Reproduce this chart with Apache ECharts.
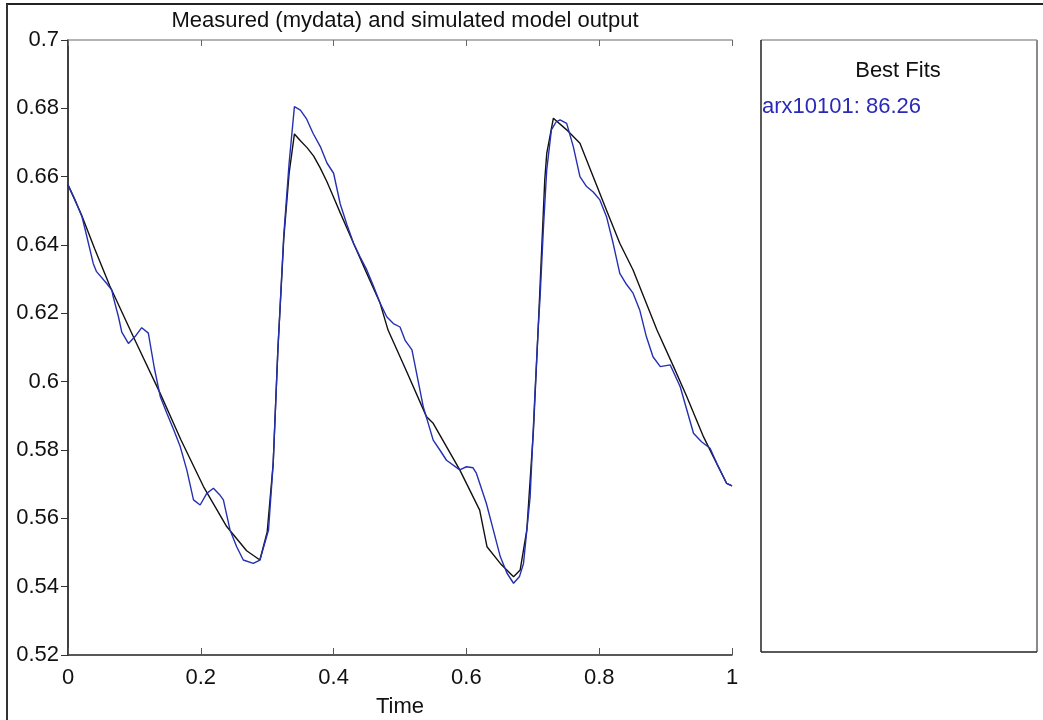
<!DOCTYPE html>
<html>
<head>
<meta charset="utf-8">
<script src="https://cdn.jsdelivr.net/npm/echarts@6/dist/echarts.min.js"></script>
<style>
html,body{margin:0;padding:0;background:#fff;}
#chart{width:1043px;height:720px;}
</style>
</head>
<body>
<div id="chart"></div>
<script>
// Simulated model output (black)
const simT = [0.000,0.020,0.040,0.063,0.100,0.139,0.170,0.204,0.239,0.269,0.289,0.300,0.309,0.316,0.325,0.333,0.341,0.350,0.360,0.370,0.380,0.390,0.400,0.410,0.420,0.430,0.450,0.470,0.482,0.510,0.540,0.550,0.590,0.620,0.631,0.651,0.671,0.681,0.691,0.701,0.708,0.718,0.721,0.731,0.751,0.771,0.791,0.811,0.831,0.851,0.887,0.912,0.932,0.957,0.972,0.992,1.000];
const simV = [0.6576,0.6490,0.6390,0.6280,0.6125,0.5965,0.5830,0.5693,0.5576,0.5505,0.5478,0.5560,0.5760,0.6090,0.6420,0.6610,0.6725,0.6705,0.6685,0.6660,0.6625,0.6585,0.6540,0.6494,0.6450,0.6405,0.6317,0.6230,0.6151,0.6030,0.5897,0.5878,0.5742,0.5624,0.5517,0.5468,0.5429,0.5449,0.5566,0.5859,0.6151,0.6590,0.6668,0.6771,0.6737,0.6698,0.6600,0.6502,0.6405,0.6327,0.6151,0.6044,0.5956,0.5839,0.5780,0.5702,0.5695];

// Measured data (blue)
const measT = [0.000,0.010,0.021,0.026,0.038,0.043,0.058,0.066,0.068,0.076,0.081,0.091,0.101,0.111,0.121,0.130,0.139,0.149,0.159,0.169,0.179,0.189,0.199,0.209,0.219,0.228,0.234,0.244,0.254,0.264,0.279,0.289,0.302,0.309,0.316,0.325,0.333,0.341,0.350,0.359,0.369,0.380,0.390,0.400,0.410,0.420,0.430,0.440,0.450,0.460,0.470,0.480,0.490,0.500,0.508,0.518,0.535,0.550,0.560,0.570,0.590,0.600,0.610,0.615,0.630,0.640,0.651,0.661,0.671,0.680,0.686,0.696,0.703,0.708,0.711,0.716,0.721,0.728,0.735,0.741,0.751,0.761,0.771,0.781,0.791,0.801,0.811,0.821,0.831,0.841,0.851,0.861,0.871,0.881,0.892,0.907,0.922,0.932,0.942,0.954,0.967,0.977,0.992,1.000];
const measV = [0.6576,0.6535,0.6483,0.6444,0.6346,0.6322,0.6288,0.6268,0.6249,0.6190,0.6145,0.6112,0.6132,0.6158,0.6142,0.6040,0.5956,0.5907,0.5860,0.5810,0.5741,0.5654,0.5639,0.5673,0.5688,0.5670,0.5654,0.5566,0.5517,0.5478,0.5468,0.5478,0.5566,0.5760,0.6090,0.6430,0.6640,0.6805,0.6795,0.6770,0.6727,0.6688,0.6640,0.6610,0.6520,0.6460,0.6405,0.6365,0.6327,0.6280,0.6230,0.6190,0.6170,0.6160,0.6120,0.6093,0.5927,0.5829,0.5800,0.5770,0.5742,0.5751,0.5748,0.5732,0.5644,0.5570,0.5488,0.5440,0.5410,0.5430,0.5468,0.5663,0.5956,0.6151,0.6249,0.6450,0.6620,0.6737,0.6760,0.6766,0.6756,0.6688,0.6600,0.6571,0.6555,0.6532,0.6483,0.6405,0.6317,0.6285,0.6259,0.6210,0.6132,0.6073,0.6044,0.6049,0.5985,0.5917,0.5849,0.5824,0.5805,0.5761,0.5702,0.5695];

const titleText = "Measured (mydata) and simulated model output";
const xName = "Time";
const panelTitle = "Best Fits";
const fitLabel = "arx10101: 86.26";

const FONT = "Liberation Sans, Arial, sans-serif";
const FS = 22;
const chart = echarts.init(document.getElementById('chart'), null, {renderer:'canvas'});

const pairs = (t, v) => t.map((x, i) => [x, v[i]]);

const option = {
  backgroundColor: '#fff',
  animation: false,
  title: {
    text: titleText,
    left: 400, top: 5, textAlign: 'center',
    textStyle: {fontFamily: FONT, fontSize: FS, fontWeight: 'normal', color: '#111'}
  },
  grid: {left: 68, top: 40, width: 664, height: 615, containLabel: false, outerBoundsMode: 'none'},
  xAxis: [
    {
      type: 'value', min: 0, max: 1, interval: 0.2, position: 'bottom',
      name: xName, nameLocation: 'middle', nameGap: 41,
      nameTextStyle: {fontFamily: FONT, fontSize: FS, color: '#111'},
      axisLine: {show: true, lineStyle: {color: '#222', width: 1.5}},
      axisTick: {show: true, inside: true, length: 7, lineStyle: {color: '#555'}},
      axisLabel: {fontFamily: FONT, fontSize: FS, color: '#111', margin: 12},
      splitLine: {show: false}
    },
    {
      type: 'value', min: 0, max: 1, interval: 0.2, position: 'top',
      axisLine: {show: true, lineStyle: {color: '#9a9a9a', width: 1.5}},
      axisTick: {show: true, inside: true, length: 6, lineStyle: {color: '#666'}},
      axisLabel: {show: false}, splitLine: {show: false}
    }
  ],
  yAxis: [
    {
      type: 'value', min: 0.52, max: 0.7, interval: 0.02, position: 'left',
      axisLine: {show: true, lineStyle: {color: '#9a9a9a', width: 2}},
      axisTick: {show: true, inside: false, length: 6, lineStyle: {color: '#444'}},
      axisLabel: {fontFamily: FONT, fontSize: FS, color: '#111', margin: 9},
      splitLine: {show: false}
    },
    {
      type: 'value', min: 0.52, max: 0.7, interval: 0.02, position: 'right',
      axisLine: {show: true, lineStyle: {color: '#222', width: 1.5}},
      axisTick: {show: true, inside: true, length: 7, lineStyle: {color: '#333'}},
      axisLabel: {show: false}, splitLine: {show: false}
    }
  ],
  series: [
    {
      name: 'simulated', type: 'line', data: pairs(simT, simV),
      showSymbol: false, symbol: 'none', smooth: false,
      lineStyle: {color: '#111', width: 1.4}, z: 2
    },
    {
      name: 'mydata', type: 'line', data: pairs(measT, measV),
      showSymbol: false, symbol: 'none', smooth: false,
      lineStyle: {color: '#2530b0', width: 1.4}, z: 3
    }
  ],
  graphic: [
    // outer figure frame (top & left visible)
    {type: 'line', shape: {x1: 6, y1: 4, x2: 1043, y2: 4}, style: {stroke: '#222', lineWidth: 2}},
    {type: 'line', shape: {x1: 7, y1: 4, x2: 7, y2: 720}, style: {stroke: '#333', lineWidth: 2}},
    // right legend panel
    {type: 'line', shape: {x1: 761, y1: 40, x2: 1037, y2: 40}, style: {stroke: '#9a9a9a', lineWidth: 1.5}},
    {type: 'line', shape: {x1: 1037, y1: 40, x2: 1037, y2: 652}, style: {stroke: '#8a8a8a', lineWidth: 2}},
    {type: 'line', shape: {x1: 761, y1: 40, x2: 761, y2: 652}, style: {stroke: '#222', lineWidth: 1.5}},
    {type: 'line', shape: {x1: 761, y1: 652, x2: 1037, y2: 652}, style: {stroke: '#222', lineWidth: 1.5}},
    {type: 'text', x: 898, y: 71, style: {text: panelTitle, font: FS + 'px ' + FONT, fill: '#111', textAlign: 'center', textVerticalAlign: 'middle'}},
    {type: 'text', x: 762, y: 107, style: {text: fitLabel, font: FS + 'px ' + FONT, fill: '#2a2ab8', textAlign: 'left', textVerticalAlign: 'middle'}}
  ]
};
chart.setOption(option);
</script>
</body>
</html>
